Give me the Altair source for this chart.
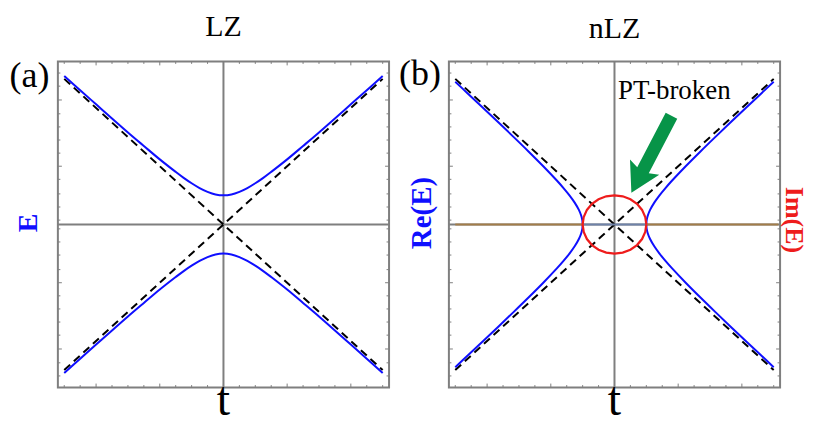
import altair as alt
import pandas as pd

SERIF = "'Liberation Serif', 'Times New Roman', Times, serif"
GREY = "#7f7f7f"
BLUE = "#0f0fff"
RED = "#ee1c1c"
BROWN = "#a27d4a"
SLATE = "#6f82a8"
GREEN = "#079448"

W, H = 332, 327
T_DOMAIN = [-1.04, 1.04]
E_DOMAIN = [-1.12, 1.12]

# ---- data ----
# LZ: upper blue branch, right half (t >= 0)
lz_t = [0.0, 0.05, 0.1, 0.15, 0.2, 0.25, 0.3, 0.4, 0.5, 0.6, 0.7, 0.8, 0.9, 1.0]
lz_E = [0.2, 0.206, 0.224, 0.25, 0.283, 0.320, 0.361, 0.447, 0.539, 0.632, 0.728, 0.825, 0.922, 1.02]

# nLZ: Re(E) blue branch, upper right (E >= 0)
nlz_E = [0.0, 0.01, 0.03, 0.06, 0.1, 0.15, 0.2, 0.25, 0.3, 0.4, 0.5, 0.6, 0.7, 0.8, 0.9, 0.98]
nlz_t = [0.2, 0.2003, 0.2022, 0.2088, 0.2236, 0.25, 0.2828, 0.3202, 0.3606, 0.4472, 0.5385,
         0.6325, 0.728, 0.8246, 0.922, 1.0]

# nLZ: Im(E) red loop, one quarter
im_t = [0.2, 0.1932, 0.1732, 0.1414, 0.1, 0.0518, 0.0]
im_E = [0.0, 0.0518, 0.1, 0.1414, 0.1732, 0.1932, 0.2]

# dashed diabatic lines
diag_t = [-1.0, 1.0]
diag_up = [-1.0, 1.0]
diag_down = [1.0, -1.0]

# zero lines in nLZ
brown_t = [-1.0, -0.2, 0.2, 1.03]
slate_t = [-0.2, 0.2]

# frame ticks
major_t = [-0.8, -0.4, 0.0, 0.4, 0.8]
minor_t = [-1.0, -0.9, -0.7, -0.6, -0.5, -0.3, -0.2, -0.1, 0.1, 0.2, 0.3, 0.5, 0.6, 0.7, 0.9, 1.0]
major_E = [-0.855, -0.4, 0.4, 0.855]
minor_E = [-1.04, -0.95, -0.76, -0.67, -0.58, -0.49, -0.31, -0.21, -0.12, -0.03,
           0.03, 0.12, 0.21, 0.31, 0.49, 0.58, 0.67, 0.76, 0.95, 1.04]

# arrow annotation (centre, data coords)
arrow_t = [0.232]
arrow_E = [0.483]

# ---- tables ----
def mirror_branches(ts, es, signs):
    rows = []
    for b, (sx, sy) in enumerate(signs):
        for i, (t, e) in enumerate(zip(ts, es)):
            rows.append({"t": sx * t, "E": sy * e, "branch": b, "i": i})
    return pd.DataFrame(rows)

lz_rows = []
for b, sy in enumerate([1, -1]):
    pts = [(-t, e) for t, e in zip(lz_t[::-1], lz_E[::-1])] + [(t, e) for t, e in zip(lz_t[1:], lz_E[1:])]
    for i, (t, e) in enumerate(pts):
        lz_rows.append({"t": t, "E": sy * e, "branch": b, "i": i})
lz_df = pd.DataFrame(lz_rows)

nlz_df = mirror_branches(nlz_t, nlz_E, [(1, 1), (1, -1), (-1, 1), (-1, -1)])

loop = []
quarter = list(zip(im_t, im_E))
loop += quarter
loop += [(-t, e) for t, e in quarter[::-1]][1:]
loop += [(-t, -e) for t, e in quarter][1:]
loop += [(t, -e) for t, e in quarter[::-1]][1:]
im_df = pd.DataFrame({"t": [p[0] for p in loop], "E": [p[1] for p in loop], "i": list(range(len(loop)))})

diag_df = pd.DataFrame({"t": diag_t + diag_t, "E": diag_up + diag_down, "branch": [0, 0, 1, 1]})

brown_df = pd.DataFrame({"t": brown_t, "E": [0.0] * 4, "branch": [0, 0, 1, 1]})
slate_df = pd.DataFrame({"t": slate_t, "E": [0.0, 0.0]})

X = alt.X("t:Q", scale=alt.Scale(domain=T_DOMAIN, nice=False, zero=False), axis=None)
Y = alt.Y("E:Q", scale=alt.Scale(domain=E_DOMAIN, nice=False, zero=False), axis=None)


def label(text, x, y, size, color="black", bold=False, angle=0, baseline="middle"):
    return alt.Chart(pd.DataFrame({"txt": [text]})).mark_text(
        font=SERIF, fontSize=size, color=color,
        fontWeight="bold" if bold else "normal",
        angle=angle, baseline=baseline, align="center",
    ).encode(x=alt.value(x), y=alt.value(y), text="txt:N")


def frame_ticks():
    layers = []
    for vals, L in ((major_t, 4), (minor_t, 2.5)):
        d = pd.DataFrame({"t": vals})
        layers.append(alt.Chart(d).mark_rule(color=GREY, strokeWidth=1).encode(
            x=X, y=alt.value(H), y2=alt.value(H - L)))
        layers.append(alt.Chart(d).mark_rule(color=GREY, strokeWidth=1).encode(
            x=X, y=alt.value(0), y2=alt.value(L)))
    for vals, L in ((major_E, 4), (minor_E, 2.5)):
        d = pd.DataFrame({"E": vals})
        layers.append(alt.Chart(d).mark_rule(color=GREY, strokeWidth=1).encode(
            y=Y, x=alt.value(0), x2=alt.value(L)))
        layers.append(alt.Chart(d).mark_rule(color=GREY, strokeWidth=1).encode(
            y=Y, x=alt.value(W), x2=alt.value(W - L)))
    return layers


def zero_axes():
    v = alt.Chart(pd.DataFrame({"t": [0.0]})).mark_rule(color=GREY, strokeWidth=2).encode(x=X)
    h = alt.Chart(pd.DataFrame({"E": [0.0]})).mark_rule(color=GREY, strokeWidth=2).encode(y=Y)
    return [v, h]


def dashed():
    return alt.Chart(diag_df).mark_line(color="black", strokeWidth=2, strokeDash=[8, 5]).encode(
        x=X, y=Y, detail="branch:N")


# ---- panel (a) LZ ----
lz_line = alt.Chart(lz_df).mark_line(color=BLUE, strokeWidth=2, interpolate="catmull-rom").encode(
    x=X, y=Y, detail="branch:N", order="i:Q")

panel_a = alt.layer(
    *frame_ticks(), *zero_axes(), dashed(), lz_line,
    label("LZ", W / 2, -25, 30, baseline="alphabetic"),
    label("(a)", -28.5, 15, 36),
    label("E", -29, 162, 28, color=BLUE, bold=True, angle=270),
    label("t", W / 2, 354, 48, baseline="alphabetic"),
).properties(width=W, height=H)

# ---- panel (b) nLZ ----
brown = alt.Chart(brown_df).mark_line(color=BROWN, strokeWidth=2.2).encode(x=X, y=Y, detail="branch:N")
slate = alt.Chart(slate_df).mark_line(color=SLATE, strokeWidth=2.2).encode(x=X, y=Y)
nlz_line = alt.Chart(nlz_df).mark_line(color=BLUE, strokeWidth=2, interpolate="catmull-rom").encode(
    x=X, y=Y, detail="branch:N", order="i:Q")
im_line = alt.Chart(im_df).mark_line(color=RED, strokeWidth=2.2).encode(x=X, y=Y, order="i:Q")

ARROW = "M -0.15 -1 L 0.15 -1 L 0.15 0.42 L 0.38 0.34 L 0 1 L -0.38 0.34 L -0.15 0.42 Z"
arrow = alt.Chart(pd.DataFrame({"t": arrow_t, "E": arrow_E})).mark_point(
    shape=ARROW, filled=True, color=GREEN, opacity=1, size=7569, angle=27.5, strokeWidth=0
).encode(x=X, y=Y)

panel_b = alt.layer(
    *frame_ticks(), *zero_axes(), dashed(), nlz_line, brown, slate, im_line, arrow,
    label("nLZ", W / 2, -23, 30, baseline="alphabetic"),
    label("(b)", -29, 13, 36),
    label("Re(E)", -27, 152, 29, color=BLUE, bold=True, angle=270),
    label("Im(E)", W + 14, 159, 26, color=RED, bold=True, angle=90),
    label("PT-broken", 226, 38, 27, baseline="alphabetic"),
    label("t", W / 2, 354, 48, baseline="alphabetic"),
).properties(width=W, height=H)

chart = alt.hconcat(panel_a, panel_b, spacing=60, bounds="flush").properties(
    padding={"left": 0, "top": 3, "right": 1, "bottom": 0}
).configure_view(stroke=GREY, strokeWidth=2)

chart.save("out.html", embed_options={"renderer": "svg", "actions": False})
